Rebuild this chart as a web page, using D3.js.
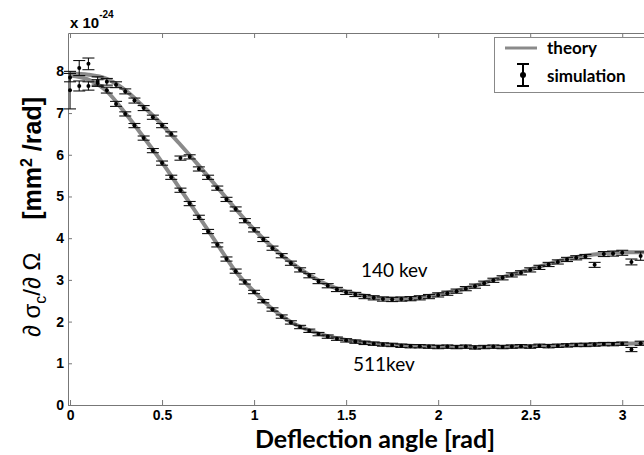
<!DOCTYPE html>
<html>
<head>
<meta charset="utf-8">
<script src="https://cdn.jsdelivr.net/npm/d3@7"></script>
<style>
    body { margin: 0; background: #fff; }
    svg { display: block; }
    .tick text { font-family: "Liberation Sans", Arial, sans-serif; font-weight: bold; font-size: 14px; fill: #000; }
    .tick line, .domain { stroke: #777; }
</style>
</head>
<body>
<div id="chart"></div>
<script>
// theory curves (x 1e-24)
const theoryAngle = [0, 0.1, 0.2, 0.3, 0.4, 0.5, 0.6, 0.7, 0.8, 0.9, 1.0, 1.1, 1.2, 1.3, 1.4, 1.5, 1.6, 1.7, 1.8, 1.9, 2.0, 2.1, 2.2, 2.3, 2.4, 2.5, 2.6, 2.7, 2.8, 2.9, 3.0, 3.14];
const theory140 = [7.95, 7.92, 7.82, 7.55, 7.15, 6.72, 6.24, 5.74, 5.22, 4.70, 4.21, 3.78, 3.42, 3.12, 2.88, 2.72, 2.62, 2.56, 2.55, 2.58, 2.65, 2.74, 2.86, 3.00, 3.13, 3.25, 3.38, 3.50, 3.58, 3.63, 3.66, 3.66];
const theory511 = [7.90, 7.80, 7.52, 7.00, 6.42, 5.82, 5.17, 4.52, 3.86, 3.20, 2.72, 2.30, 1.99, 1.79, 1.65, 1.56, 1.50, 1.46, 1.43, 1.41, 1.40, 1.39, 1.39, 1.39, 1.40, 1.41, 1.42, 1.43, 1.45, 1.46, 1.47, 1.48];

// simulation points
const simAngle = [0, 0.05, 0.1, 0.15, 0.2, 0.25, 0.3, 0.35, 0.4, 0.45, 0.5, 0.55, 0.6, 0.65, 0.7, 0.75, 0.8, 0.85, 0.9, 0.95,
    1.0, 1.05, 1.1, 1.15, 1.2, 1.25, 1.3, 1.35, 1.4, 1.45, 1.5, 1.55, 1.6, 1.65, 1.7, 1.75, 1.8, 1.85, 1.9, 1.95,
    2.0, 2.05, 2.1, 2.15, 2.2, 2.25, 2.3, 2.35, 2.4, 2.45, 2.5, 2.55, 2.6, 2.65, 2.7, 2.75, 2.8, 2.85, 2.9, 2.95,
    3.0, 3.05, 3.1];
const sim140 = [7.55, 8.08, 8.18, 7.77, 7.75, 7.68, 7.52, 7.30, 7.12, 6.90, 6.70, 6.50, 5.92, 5.95, 5.66, 5.46, 5.20, 4.93, 4.70, 4.42,
    4.20, 3.97, 3.76, 3.58, 3.40, 3.24, 3.10, 2.96, 2.86, 2.77, 2.70, 2.65, 2.60, 2.57, 2.54, 2.53, 2.54, 2.55, 2.57, 2.60,
    2.64, 2.68, 2.73, 2.79, 2.85, 2.92, 2.99, 3.05, 3.12, 3.17, 3.24, 3.30, 3.37, 3.43, 3.49, 3.53, 3.56, 3.36, 3.62, 3.63,
    3.65, 3.43, 3.57];
const err140 = [0.45, 0.18, 0.14, 0.10, 0.08, 0.07, 0.06, 0.06, 0.06, 0.05, 0.05, 0.05, 0.05, 0.05, 0.05, 0.05, 0.05, 0.05, 0.05, 0.05,
    0.05, 0.05, 0.05, 0.05, 0.05, 0.05, 0.05, 0.05, 0.05, 0.05, 0.05, 0.05, 0.05, 0.05, 0.05, 0.05, 0.05, 0.05, 0.05, 0.05,
    0.05, 0.05, 0.05, 0.05, 0.05, 0.05, 0.05, 0.05, 0.05, 0.05, 0.05, 0.05, 0.05, 0.05, 0.05, 0.05, 0.05, 0.06, 0.06, 0.06,
    0.06, 0.07, 0.10];
const sim511 = [7.85, 7.65, 7.65, 7.72, 7.55, 7.22, 6.98, 6.70, 6.40, 6.10, 5.80, 5.46, 5.15, 4.83, 4.50, 4.16, 3.84, 3.50, 3.21, 2.95,
    2.71, 2.49, 2.29, 2.12, 1.98, 1.87, 1.78, 1.70, 1.64, 1.59, 1.55, 1.52, 1.49, 1.47, 1.45, 1.44, 1.42, 1.41, 1.41, 1.40,
    1.39, 1.40, 1.39, 1.40, 1.38, 1.39, 1.40, 1.39, 1.40, 1.41, 1.40, 1.42, 1.41, 1.42, 1.43, 1.44, 1.44, 1.45, 1.46, 1.46,
    1.47, 1.33, 1.48];
const err511 = [0.10, 0.12, 0.10, 0.08, 0.07, 0.06, 0.05, 0.05, 0.05, 0.05, 0.05, 0.05, 0.05, 0.05, 0.05, 0.05, 0.05, 0.05, 0.05, 0.05,
    0.04, 0.04, 0.04, 0.04, 0.04, 0.04, 0.04, 0.04, 0.04, 0.04, 0.04, 0.04, 0.04, 0.04, 0.04, 0.04, 0.04, 0.04, 0.04, 0.04,
    0.04, 0.04, 0.04, 0.04, 0.04, 0.04, 0.04, 0.04, 0.04, 0.04, 0.04, 0.04, 0.04, 0.04, 0.04, 0.04, 0.04, 0.04, 0.04, 0.04,
    0.04, 0.05, 0.05];

const xTicks = [0, 0.5, 1, 1.5, 2, 2.5, 3];
const yTicks = [0, 1, 2, 3, 4, 5, 6, 7, 8];

const width = 644, height = 455;

var svg = d3.select("#chart")
    .append("svg")
    .attr("width", width)
    .attr("height", height);

var x = d3.scaleLinear().domain([-0.011, 3.14]).range([68, 648]);
var y = d3.scaleLinear().domain([0, 8.92]).range([405, 33]);

// axes, ticks pointing inward
svg.append("g")
    .attr("transform", "translate(0,405)")
    .call(d3.axisBottom(x).tickValues(xTicks).tickFormat(d => d).tickSizeInner(-5).tickSizeOuter(0).tickPadding(5));

svg.append("g")
    .attr("transform", "translate(0,33)")
    .call(d3.axisTop(x).tickValues(xTicks).tickFormat("").tickSizeInner(-5).tickSizeOuter(0));

svg.append("g")
    .attr("transform", "translate(68,0)")
    .call(d3.axisLeft(y).tickValues(yTicks).tickSizeInner(-4).tickSizeOuter(0).tickPadding(4));

// theory lines
var line = d3.line()
    .x((d, i) => x(theoryAngle[i]))
    .y(d => y(d))
    .curve(d3.curveMonotoneX);

[theory140, theory511].forEach(function(s) {
    svg.append("path")
        .attr("d", line(s))
        .attr("fill", "none")
        .attr("stroke", "#8a8a8a")
        .attr("stroke-width", 4);
});

// simulation with error bars
var cap = 6;
[[sim140, err140], [sim511, err511]].forEach(function(pair) {
    var vals = pair[0], errs = pair[1];
    var g = svg.append("g").attr("stroke", "#111").attr("stroke-width", 1.1);
    vals.forEach(function(v, i) {
        var px = x(simAngle[i]);
        var top = y(v + errs[i]), bot = y(v - errs[i]);
        g.append("line").attr("x1", px).attr("x2", px).attr("y1", top).attr("y2", bot);
        g.append("line").attr("x1", px - cap).attr("x2", px + cap).attr("y1", top).attr("y2", top);
        g.append("line").attr("x1", px - cap).attr("x2", px + cap).attr("y1", bot).attr("y2", bot);
        g.append("circle").attr("cx", px).attr("cy", y(v)).attr("r", 2).attr("fill", "#000").attr("stroke", "none");
    });
});

// exponent label
var expo = svg.append("text")
    .attr("x", 70)
    .attr("y", 28)
    .style("font-family", "'Liberation Sans', Arial, sans-serif")
    .style("font-weight", "bold")
    .style("font-size", "15px");
expo.append("tspan").text("x 10");
expo.append("tspan").attr("dy", -10).style("font-size", "10px").text("-24");

// curve labels
svg.append("text")
    .attr("x", 361).attr("y", 277)
    .style("font-family", "Lato, sans-serif")
    .style("font-size", "19px")
    .text("140 kev");

svg.append("text")
    .attr("x", 353).attr("y", 371)
    .style("font-family", "Lato, sans-serif")
    .style("font-size", "19px")
    .text("511kev");

// axis titles
svg.append("text")
    .attr("x", 375).attr("y", 448)
    .attr("text-anchor", "middle")
    .style("font-family", "Lato, sans-serif")
    .style("font-weight", "bold")
    .style("font-size", "25px")
    .text("Deflection angle [rad]");

var ylab1 = svg.append("text")
    .attr("transform", "translate(40,337) rotate(-90)")
    .style("font-family", "'Liberation Sans', Arial, sans-serif")
    .style("font-size", "24px")
    .style("white-space", "pre");
ylab1.append("tspan").text("\u2202 \u03c3");
ylab1.append("tspan").attr("dy", 6).style("font-size", "16px").text("c");
ylab1.append("tspan").attr("dy", -6).text("/\u2202 \u03a9");

var ylab2 = svg.append("text")
    .attr("transform", "translate(41,97) rotate(-90)")
    .attr("text-anchor", "end")
    .style("font-family", "'Liberation Sans', Arial, sans-serif")
    .style("font-weight", "bold")
    .style("font-size", "25px")
    .style("white-space", "pre");
ylab2.append("tspan").text("[mm");
ylab2.append("tspan").attr("dy", -9).style("font-size", "16px").text("2");
ylab2.append("tspan").attr("dy", 9).text(" /rad]");

// legend
var leg = svg.append("g");
leg.append("rect")
    .attr("x", 494.5).attr("y", 37.5)
    .attr("width", 160).attr("height", 55)
    .attr("fill", "#fff")
    .attr("stroke", "#888");
leg.append("line")
    .attr("x1", 505).attr("x2", 537).attr("y1", 48).attr("y2", 48)
    .attr("stroke", "#8a8a8a").attr("stroke-width", 3);
leg.append("line").attr("x1", 523).attr("x2", 523).attr("y1", 64).attr("y2", 86).attr("stroke", "#000").attr("stroke-width", 2);
leg.append("line").attr("x1", 517).attr("x2", 529).attr("y1", 64).attr("y2", 64).attr("stroke", "#000").attr("stroke-width", 2);
leg.append("line").attr("x1", 517).attr("x2", 529).attr("y1", 86).attr("y2", 86).attr("stroke", "#000").attr("stroke-width", 2);
leg.append("circle").attr("cx", 523).attr("cy", 75).attr("r", 3).attr("fill", "#000");
leg.append("text")
    .attr("x", 547).attr("y", 54)
    .style("font-family", "Lato, sans-serif").style("font-weight", "bold").style("font-size", "17px")
    .text("theory");
leg.append("text")
    .attr("x", 547).attr("y", 82)
    .style("font-family", "Lato, sans-serif").style("font-weight", "bold").style("font-size", "17px")
    .text("simulation");
</script>
</body>
</html>
